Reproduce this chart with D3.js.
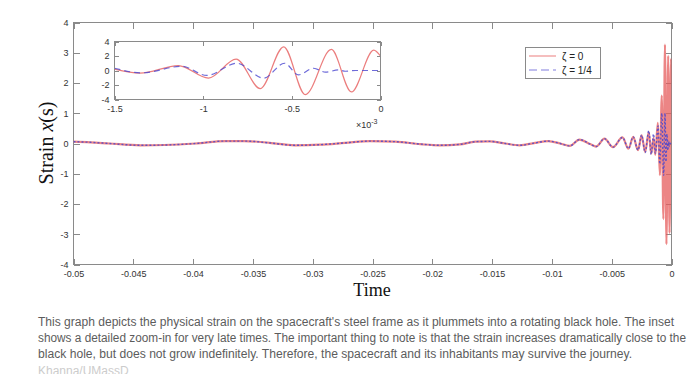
<!DOCTYPE html>
<html>
<head>
<meta charset="utf-8">
<title>Strain x(s)</title>
<script src="https://d3js.org/d3.v7.min.js"></script>
<style>
body { margin: 0; background: #fff; }
.axis text { font: 9px "Liberation Sans", Arial, sans-serif; fill: #333; }
.axis line { stroke: #8a8a8a; shape-rendering: crispEdges; }
.axis path { display: none; }
.box { fill: none; stroke: #8a8a8a; shape-rendering: crispEdges; }
.caption { font: 12px "Liberation Sans", Arial, sans-serif; fill: #5c5c5c; }
</style>
</head>
<body>
<script>
// ticks
var xTicks = [-0.05, -0.045, -0.04, -0.035, -0.03, -0.025, -0.02, -0.015, -0.01, -0.005, 0];
var yTicks = [-4, -3, -2, -1, 0, 1, 2, 3, 4];
var insetXTicks = [-1.5, -1, -0.5, 0];
var insetYTicks = [-4, -2, 0, 2, 4];

// main trace before the inset window (time in s)
var mainTime = [-0.0500, -0.0486, -0.0470, -0.0444, -0.0424, -0.0398, -0.0373, -0.0357, -0.0336, -0.0315,
  -0.0294, -0.0273, -0.0252, -0.0231, -0.0210, -0.0194, -0.0177, -0.0164, -0.0152, -0.0139,
  -0.0127, -0.0114, -0.0103, -0.0093, -0.0085, -0.0077, -0.0068, -0.0063, -0.0056, -0.0049,
  -0.0041, -0.0036, -0.0032, -0.0028, -0.0025, -0.0022, -0.0019, -0.0017];
var mainZeta0 = [0.06, 0.04, 0.0, -0.06, -0.05, 0.0, 0.08, 0.08, 0.02, -0.06,
  -0.04, 0.02, 0.08, 0.06, -0.02, -0.06, -0.03, 0.06, 0.07, 0.0,
  -0.06, 0.02, 0.08, 0.0, -0.08, 0.13, -0.02, -0.10, 0.16, -0.12,
  0.20, -0.17, 0.22, -0.22, 0.27, -0.28, 0.38, -0.33];
var mainZeta14 = [0.06, 0.04, 0.0, -0.06, -0.05, 0.0, 0.08, 0.08, 0.02, -0.06,
  -0.04, 0.02, 0.08, 0.06, -0.02, -0.06, -0.03, 0.06, 0.07, 0.0,
  -0.06, 0.02, 0.08, 0.0, -0.08, 0.13, -0.02, -0.10, 0.16, -0.12,
  0.20, -0.17, 0.22, -0.22, 0.28, -0.30, 0.42, -0.36];

// last 1.5 ms (time in ms, the inset window)
var insetTime0 = [-1.5, -1.356, -1.14, -0.97, -0.814, -0.678, -0.546, -0.424, -0.277, -0.164, -0.038, 0];
var insetZeta0 = [0.18, -0.37, 0.68, -1.05, 1.58, -2.5, 3.27, -3.33, 2.9, -2.96, 2.8, 2.0];
var insetTime14 = [-1.5, -1.346, -1.12, -0.979, -0.81, -0.659, -0.541, -0.462, -0.377, -0.311, -0.236, -0.198, -0.14, 0];
var insetZeta14 = [0.31, -0.32, 0.58, -0.68, 1.0, -1.05, 1.0, -0.6, 0.31, -0.23, 0.08, -0.1, 0.0, 0.0];

var captionLines = [
  "This graph depicts the physical strain on the spacecraft's steel frame as it plummets into a rotating black hole. The inset",
  "shows a detailed zoom-in for very late times. The important thing to note is that the strain increases dramatically close to the",
  "black hole, but does not grow indefinitely. Therefore, the spacecraft and its inhabitants may survive the journey."
];
var captionWidths = [636, 648, 594];
var credit = "Khanna/UMassD";

var red = "#e65c5c", blue = "#4a46cf";

function zip(ts, vs, k) { return ts.map(function(t, i) { return {t: t * k, v: vs[i]}; }); }
var full0 = zip(mainTime, mainZeta0, 1).concat(zip(insetTime0, insetZeta0, 0.001));
var full14 = zip(mainTime, mainZeta14, 1).concat(zip(insetTime14, insetZeta14, 0.001));

var svg = d3.select("body").append("svg").attr("width", 700).attr("height", 374);
svg.append("rect").attr("width", 700).attr("height", 374).attr("fill", "#fff");

var L = 73.5, R = 671.5, T = 22.5, B = 264.5;
var x = d3.scaleLinear().domain([-0.05, 0]).range([L, R]);
var y = d3.scaleLinear().domain([-4, 4]).range([B, T]);
function fmt(d) { return String(+d.toFixed(4)); }

svg.append("defs").append("clipPath").attr("id", "clip")
  .append("rect").attr("x", L).attr("y", T).attr("width", R - L).attr("height", B - T);

svg.append("g").attr("class", "axis").attr("transform", "translate(0," + B + ")")
  .call(d3.axisBottom(x).tickValues(xTicks).tickSizeInner(-6).tickSizeOuter(0).tickPadding(6).tickFormat(fmt));
svg.append("g").attr("class", "axis").attr("transform", "translate(0," + T + ")")
  .call(d3.axisTop(x).tickValues(xTicks).tickSizeInner(-6).tickSizeOuter(0).tickFormat(""));
svg.append("g").attr("class", "axis").attr("transform", "translate(" + L + ",0)")
  .call(d3.axisLeft(y).tickValues(yTicks).tickSizeInner(-6).tickSizeOuter(0).tickPadding(5).tickFormat(fmt));
svg.append("g").attr("class", "axis").attr("transform", "translate(" + R + ",0)")
  .call(d3.axisRight(y).tickValues(yTicks).tickSizeInner(-6).tickSizeOuter(0).tickFormat(""));
svg.append("rect").attr("class", "box").attr("x", L).attr("y", T).attr("width", R - L).attr("height", B - T);

var line = d3.line().x(function(d) { return x(d.t); }).y(function(d) { return y(d.v); }).curve(d3.curveMonotoneX);
var plotG = svg.append("g").attr("clip-path", "url(#clip)");
plotG.append("path").datum(full0).attr("d", line)
  .attr("fill", "none").attr("stroke", red).attr("stroke-opacity", 0.75).attr("stroke-width", 2.2);
plotG.append("path").datum(full14).attr("d", line)
  .attr("fill", "none").attr("stroke", blue).attr("stroke-opacity", 0.85).attr("stroke-width", 1.4).attr("stroke-dasharray", "2,2");

// legend
var leg = svg.append("g");
leg.append("rect").attr("x", 525.5).attr("y", 47.5).attr("width", 75).attr("height", 31)
  .attr("fill", "#fff").attr("stroke", "#8a8a8a").attr("shape-rendering", "crispEdges");
leg.append("line").attr("x1", 529).attr("x2", 556).attr("y1", 56).attr("y2", 56)
  .attr("stroke", red).attr("stroke-opacity", 0.8);
leg.append("line").attr("x1", 529).attr("x2", 556).attr("y1", 70).attr("y2", 70)
  .attr("stroke", blue).attr("stroke-opacity", 0.7).attr("stroke-dasharray", "8,4");
leg.selectAll("text").data(["\u03b6 = 0", "\u03b6 = 1/4"]).enter().append("text")
  .attr("x", 562).attr("y", function(d, i) { return 59.5 + i * 14; })
  .style("font", "10px 'Liberation Sans', Arial, sans-serif").attr("fill", "#222").text(function(d) { return d; });

// inset
var iL = 114.5, iR = 380.5, iT = 41.5, iB = 99.5;
var ix = d3.scaleLinear().domain([-1.5, 0]).range([iL, iR]);
var iy = d3.scaleLinear().domain([-4, 4]).range([iB, iT]);
var ins = svg.append("g");
ins.append("rect").attr("x", iL).attr("y", iT).attr("width", iR - iL).attr("height", iB - iT).attr("fill", "#fff");
ins.append("g").attr("class", "axis").attr("transform", "translate(0," + iB + ")")
  .call(d3.axisBottom(ix).tickValues(insetXTicks).tickSizeInner(-4).tickSizeOuter(0).tickPadding(6).tickFormat(fmt));
ins.append("g").attr("class", "axis").attr("transform", "translate(0," + iT + ")")
  .call(d3.axisTop(ix).tickValues(insetXTicks).tickSizeInner(-4).tickSizeOuter(0).tickFormat(""));
ins.append("g").attr("class", "axis").attr("transform", "translate(" + iL + ",0)")
  .call(d3.axisLeft(iy).tickValues(insetYTicks).tickSizeInner(-4).tickSizeOuter(0).tickPadding(5).tickFormat(fmt));
ins.append("g").attr("class", "axis").attr("transform", "translate(" + iR + ",0)")
  .call(d3.axisRight(iy).tickValues(insetYTicks).tickSizeInner(-4).tickSizeOuter(0).tickFormat(""));
var iline = d3.line().x(function(d) { return ix(d.t); }).y(function(d) { return iy(d.v); }).curve(d3.curveMonotoneX);
ins.append("path").datum(zip(insetTime0, insetZeta0, 1)).attr("d", iline)
  .attr("fill", "none").attr("stroke", red).attr("stroke-opacity", 0.8).attr("stroke-width", 1.2);
ins.append("path").datum(zip(insetTime14, insetZeta14, 1)).attr("d", iline)
  .attr("fill", "none").attr("stroke", blue).attr("stroke-opacity", 0.8).attr("stroke-width", 1.2).attr("stroke-dasharray", "6,4");
ins.append("rect").attr("class", "box").attr("x", iL).attr("y", iT).attr("width", iR - iL).attr("height", iB - iT);
var exp = ins.append("text").attr("x", 356).attr("y", 128)
  .style("font", "9px 'Liberation Sans', Arial, sans-serif").attr("fill", "#333");
exp.append("tspan").text("\u00d710");
exp.append("tspan").attr("dy", -4).style("font-size", "7px").text("-3");

// axis titles
svg.append("text").attr("x", 372).attr("y", 296).attr("text-anchor", "middle")
  .style("font", "18px 'Liberation Serif', 'Times New Roman', serif").attr("fill", "#111").text("Time");
var yl = svg.append("text").attr("transform", "translate(53,143) rotate(-90)").attr("text-anchor", "middle")
  .style("font", "20px 'Liberation Serif', 'Times New Roman', serif").attr("fill", "#111");
yl.append("tspan").text("Strain ");
yl.append("tspan").style("font-style", "italic").text("x");
yl.append("tspan").text("(s)");

// caption
var cap = svg.append("g");
cap.selectAll("text").data(captionLines).enter().append("text").attr("class", "caption")
  .attr("x", 38).attr("y", function(d, i) { return 326 + i * 16; })
  .attr("textLength", function(d, i) { return captionWidths[i]; })
  .attr("lengthAdjust", "spacingAndGlyphs").text(function(d) { return d; });
cap.append("text").attr("class", "caption").attr("x", 38).attr("y", 375)
  .style("fill", "#cccccc").text(credit);
</script>
</body>
</html>
